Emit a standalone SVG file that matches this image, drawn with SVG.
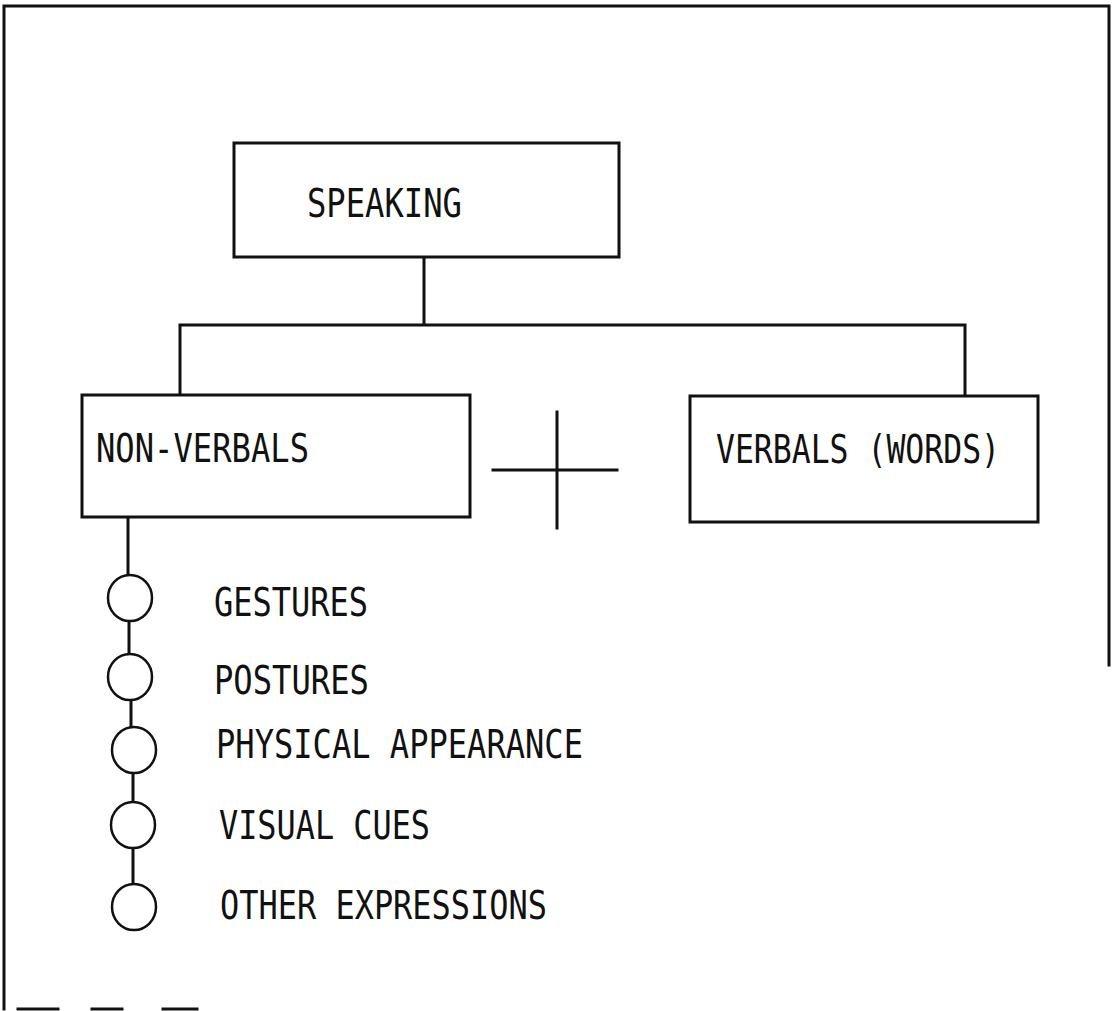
<svg xmlns="http://www.w3.org/2000/svg" width="1115" height="1011" viewBox="0 0 1115 1011">
<style>
.ln{stroke:#111;stroke-width:3;fill:none;stroke-linecap:square}
.box{stroke:#111;stroke-width:3;fill:#fff}
.dot{stroke:#111;stroke-width:2.5;fill:#fff}
.t{font-family:"DejaVu Sans Mono","Liberation Mono",monospace;font-size:39px;fill:#111}
</style>
<rect width="1115" height="1011" fill="#fff"/>
<g id="frame">
<path class="ln" d="M4,1009 V6 H1109 V665"/>
<path class="ln" d="M18,1009 H58 M92,1009 H122 M163,1009 H197" stroke-width="2"/>
</g>
<g id="connectors">
<path class="ln" d="M424,257 V325 M180,325 H965 M180,325 V395 M965,325 V396"/>
<path class="ln" d="M128,517 V575 M129,621 V654 M131,700 V727 M133,773 V802 M133,848 V884" stroke-width="2.5"/>
</g>
<g id="speaking">
<rect class="box" x="234" y="143" width="385" height="114"/>
<text class="t" x="307" y="217" font-size="36" textLength="155" lengthAdjust="spacingAndGlyphs">SPEAKING</text>
</g>
<g id="nonverbals">
<rect class="box" x="82" y="395" width="388" height="122"/>
<text class="t" x="96" y="462" font-size="40" textLength="213" lengthAdjust="spacingAndGlyphs">NON-VERBALS</text>
</g>
<g id="plus">
<path class="ln" d="M557,412 V528 M493,470 H617"/>
</g>
<g id="verbals">
<rect class="box" x="690" y="396" width="348" height="126"/>
<text class="t" x="716" y="463" font-size="35" textLength="284" lengthAdjust="spacingAndGlyphs">VERBALS (WORDS)</text>
</g>
<g id="gestures">
<ellipse class="dot" cx="130" cy="598" rx="22" ry="23"/>
<text class="t" x="214" y="616" font-size="40" textLength="154" lengthAdjust="spacingAndGlyphs">GESTURES</text>
</g>
<g id="postures">
<ellipse class="dot" cx="130" cy="677" rx="22" ry="23"/>
<text class="t" x="214" y="694" textLength="155" lengthAdjust="spacingAndGlyphs">POSTURES</text>
</g>
<g id="physical">
<ellipse class="dot" cx="134" cy="750" rx="22" ry="23"/>
<text class="t" x="216" y="758" textLength="367" lengthAdjust="spacingAndGlyphs">PHYSICAL APPEARANCE</text>
</g>
<g id="visual">
<ellipse class="dot" cx="133" cy="825" rx="22" ry="23"/>
<text class="t" x="219" y="839" font-size="37" textLength="211" lengthAdjust="spacingAndGlyphs">VISUAL CUES</text>
</g>
<g id="other">
<ellipse class="dot" cx="134" cy="907" rx="22" ry="23"/>
<text class="t" x="220" y="919" font-size="37" textLength="327" lengthAdjust="spacingAndGlyphs">OTHER EXPRESSIONS</text>
</g>
</svg>
